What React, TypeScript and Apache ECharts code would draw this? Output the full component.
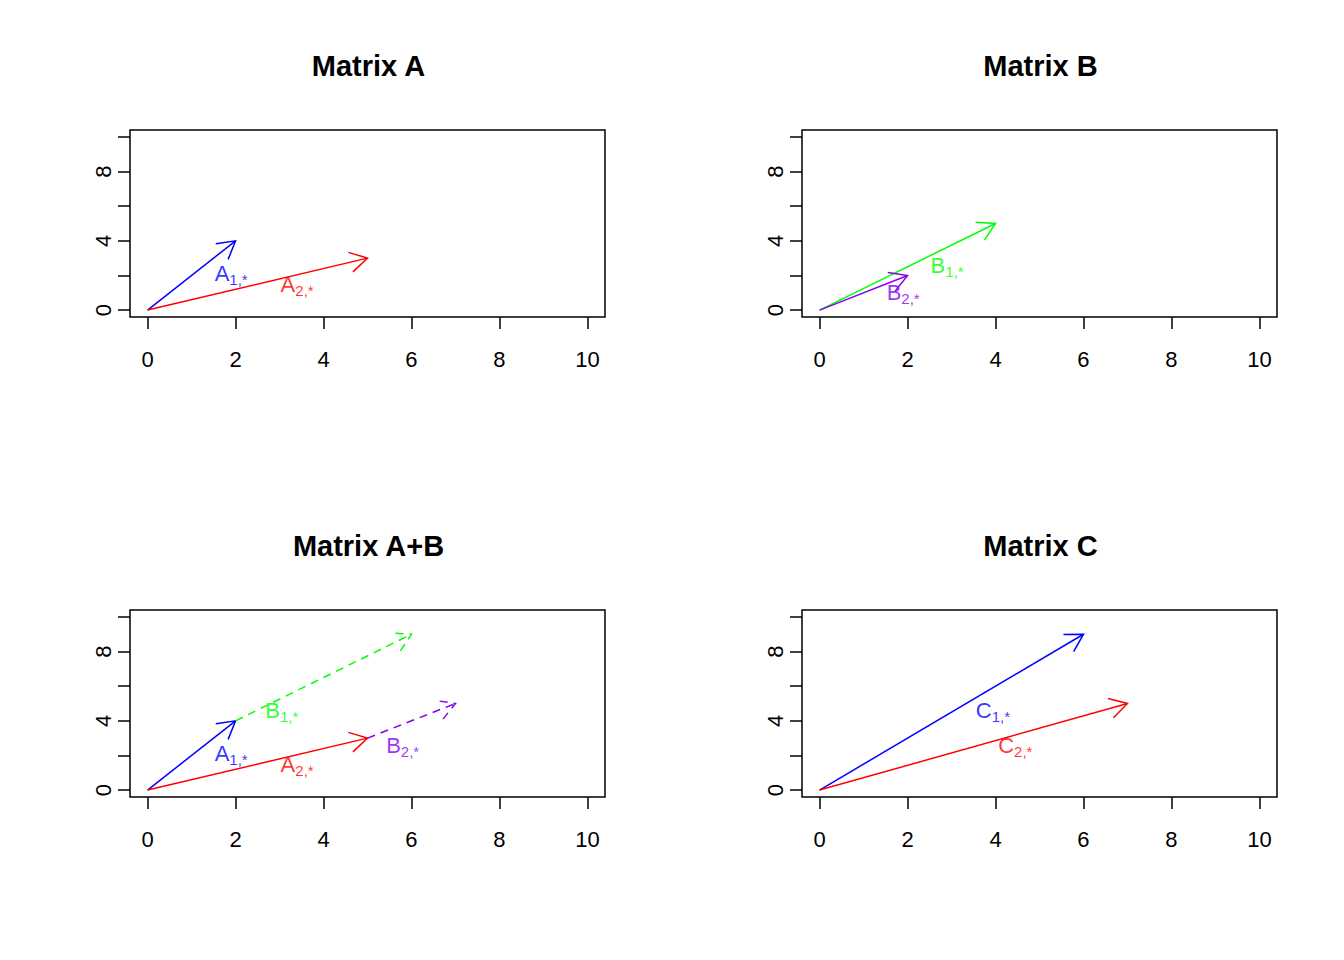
import React, { useEffect, useRef } from "react";
import * as echarts from "echarts";

const titles = ["Matrix A", "Matrix B", "Matrix A+B", "Matrix C"];
const xTicks = [0, 2, 4, 6, 8, 10];
const yTicks = [0, 2, 4, 6, 8, 10];
const yLabels = [0, 4, 8];
// arrows: [x0, y0, x1, y1, color, dashed]
const arrowsA = [[0, 0, 2, 4, "#0000ff", 0], [0, 0, 5, 3, "#ff0000", 0]];
const arrowsB = [[0, 0, 4, 5, "#00ff00", 0], [0, 0, 2, 2, "#8800ee", 0]];
const arrowsAB = [
  [0, 0, 2, 4, "#0000ff", 0], [0, 0, 5, 3, "#ff0000", 0],
  [2, 4, 6, 9, "#00ff00", 1], [5, 3, 7, 5, "#8800ee", 1],
];
const arrowsC = [[0, 0, 6, 9, "#0000ff", 0], [0, 0, 7, 5, "#ff0000", 0]];
// labels: [x, y, letter, subscript, color]
const labelsA = [[1.9, 2.1, "A", "1,*", "#0000ff"], [3.4, 1.5, "A", "2,*", "#ff0000"]];
const labelsB = [[2.9, 2.6, "B", "1,*", "#00ff00"], [1.9, 1.0, "B", "2,*", "#8800ee"]];
const labelsAB = [
  [1.9, 2.1, "A", "1,*", "#0000ff"], [3.4, 1.5, "A", "2,*", "#ff0000"],
  [3.05, 4.6, "B", "1,*", "#00ff00"], [5.8, 2.6, "B", "2,*", "#8800ee"],
];
const labelsC = [[3.94, 4.6, "C", "1,*", "#0000ff"], [4.45, 2.55, "C", "2,*", "#ff0000"]];

const panelArrows = [arrowsA, arrowsB, arrowsAB, arrowsC];
const panelLabels = [labelsA, labelsB, labelsAB, labelsC];
const gridPos = [[130, 130], [802, 130], [130, 610], [802, 610]];
const FONT = "Liberation Sans, Arial, sans-serif";

export default function App() {
  const ref = useRef<HTMLDivElement>(null);
  useEffect(() => {
    const chart = echarts.init(ref.current!, null, { renderer: "svg" });
    const grid: any[] = [], xAxis: any[] = [], yAxis: any[] = [], series: any[] = [], title: any[] = [];
    gridPos.forEach(([l, t], i) => {
      grid.push({ left: l, top: t, width: 475, height: 187, show: true, borderColor: "#000", borderWidth: 1.5, backgroundColor: "transparent" });
      title.push({ text: titles[i], left: l + 233.5, top: t - 84, textAlign: "center",
        textStyle: { fontFamily: FONT, fontSize: 29, fontWeight: "bold", color: "#000" } });
      xAxis.push({ gridIndex: i, type: "value", min: -0.4, max: 10.4, splitLine: { show: false },
        axisLine: { show: false, onZero: false },
        axisTick: { show: true, length: 12, inside: false, customValues: xTicks, lineStyle: { color: "#000", width: 1.5 } },
        axisLabel: { customValues: xTicks, margin: 31, fontSize: 22, color: "#000", fontFamily: FONT } });
      yAxis.push({ gridIndex: i, type: "value", min: -0.4, max: 10.4, splitLine: { show: false },
        axisLine: { show: false, onZero: false },
        axisTick: { show: true, length: 12, inside: false, customValues: yTicks, lineStyle: { color: "#000", width: 1.5 } },
        axisLabel: { customValues: yLabels, rotate: 90, margin: 27, fontSize: 22, color: "#000", fontFamily: FONT, verticalAlign: "middle", align: "center" } });
      series.push({
        type: "custom", xAxisIndex: i, yAxisIndex: i, data: panelArrows[i], silent: true,
        renderItem: (params: any, api: any) => {
          const d = panelArrows[i][params.dataIndex] as any[];
          const p0 = api.coord([d[0], d[1]]);
          const p1 = api.coord([d[2], d[3]]);
          const a = Math.atan2(p1[1] - p0[1], p1[0] - p0[0]);
          const L = 20, w = Math.PI / 6;
          const h1 = [p1[0] - L * Math.cos(a - w), p1[1] - L * Math.sin(a - w)];
          const h2 = [p1[0] - L * Math.cos(a + w), p1[1] - L * Math.sin(a + w)];
          const style: any = { stroke: d[4], lineWidth: 1.5, fill: "none" };
          if (d[5]) style.lineDash = [8, 6];
          return { type: "group", children: [
            { type: "line", shape: { x1: p0[0], y1: p0[1], x2: p1[0], y2: p1[1] }, style },
            { type: "polyline", shape: { points: [h1, p1, h2] }, style: { ...style } },
          ] };
        },
      });
      panelLabels[i].forEach((lb: any[]) => {
        series.push({
          type: "scatter", xAxisIndex: i, yAxisIndex: i, symbolSize: 0, silent: true,
          data: [[lb[0], lb[1]]],
          label: { show: true, position: "inside", formatter: `{m|${lb[2]}}{s|${lb[3]}}`,
            rich: {
              m: { fontSize: 22, color: lb[4], fontFamily: FONT },
              s: { fontSize: 15, color: lb[4], fontFamily: FONT, padding: [12, 0, 0, 0] },
            } },
        });
      });
    });
    chart.setOption({ animation: false, backgroundColor: "#fff", title, grid, xAxis, yAxis, series });
    return () => chart.dispose();
  }, []);
  return <div ref={ref} style={{ position: "absolute", left: 0, top: 0, width: 1344, height: 960 }} />;
}
